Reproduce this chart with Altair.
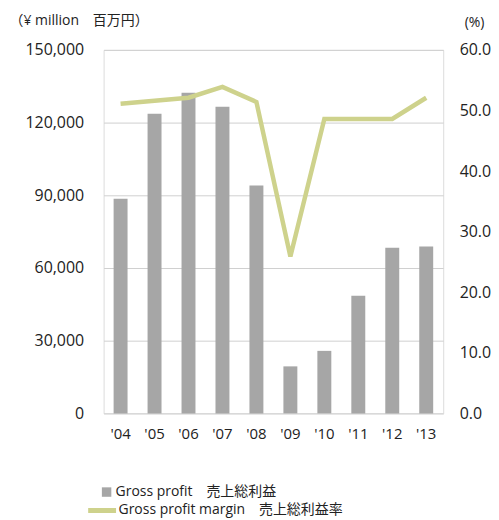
import altair as alt
import pandas as pd

years = ["'04", "'05", "'06", "'07", "'08", "'09", "'10", "'11", "'12", "'13"]
gross_profit = [88600, 123600, 132300, 126500, 94000, 19400, 25800, 48500, 68400, 68900]
gross_margin = [51.1, 51.6, 52.1, 53.9, 51.4, 25.9, 48.6, 48.6, 48.6, 52.1]

FONT = "Open Sans, Noto Sans CJK JP, sans-serif"
BAR_LABEL = "Gross profit\u3000売上総利益"
LINE_LABEL = "Gross profit margin\u3000売上総利益率"

df = pd.DataFrame({
    "year": years,
    "profit": gross_profit,
    "margin": gross_margin,
    "bar_series": [BAR_LABEL] * len(years),
    "line_series": [LINE_LABEL] * len(years),
})

x = alt.X("year:N", sort=years, title=None,
          scale=alt.Scale(paddingInner=0.59, paddingOuter=0.295),
          axis=alt.Axis(labelAngle=0, labelFontSize=15, labelColor="#222222",
                        labelFont=FONT, domain=False, ticks=False, labelPadding=13))

bars = alt.Chart(df).mark_bar(size=14).encode(
    x=x,
    y=alt.Y("profit:Q",
            scale=alt.Scale(domain=[0, 150000]),
            axis=alt.Axis(values=[0, 30000, 60000, 90000, 120000, 150000], format=",d",
                          title="（¥ million\u3000百万円）", titleAngle=0, titleAlign="left",
                          titleBaseline="middle", titleX=-95, titleY=-29,
                          titleFontSize=14, titleFontWeight="normal", titleColor="#222222",
                          titleFont=FONT,
                          labelFontSize=16, labelColor="#222222", labelFont=FONT,
                          labelPadding=20, domain=False, ticks=False,
                          grid=True, gridColor="#d0d0d0", gridWidth=1)),
    color=alt.Color("bar_series:N", scale=alt.Scale(range=["#a6a6a6"]),
                    legend=alt.Legend(title=None, orient="none", legendX=-4, legendY=437,
                                      symbolType="square", symbolSize=90,
                                      labelFontSize=14, labelColor="#222222",
                                      labelFont=FONT, padding=0, labelOffset=2,
                                      labelLimit=400)),
)

line = alt.Chart(df).mark_line(strokeWidth=4.5, strokeJoin="miter").encode(
    x=x,
    y=alt.Y("margin:Q",
            scale=alt.Scale(domain=[0, 60]),
            axis=alt.Axis(values=[0, 10, 20, 30, 40, 50, 60], format=".1f", orient="right",
                          title="(%)", titleAngle=0, titleAlign="center",
                          titleBaseline="middle", titleX=31, titleY=-27,
                          titleFontSize=14, titleFontWeight="normal", titleColor="#222222",
                          titleFont=FONT,
                          labelFontSize=16, labelColor="#222222", labelFont=FONT,
                          labelPadding=16, domain=False, ticks=False, grid=False)),
    stroke=alt.Stroke("line_series:N", scale=alt.Scale(range=["#ced28c"]),
                      legend=alt.Legend(title=None, orient="none", legendX=-18, legendY=446,
                                        symbolType="stroke", symbolSize=784,
                                        symbolStrokeWidth=5,
                                        labelFontSize=14, labelColor="#222222",
                                        labelFont=FONT, padding=0, labelOffset=0,
                                        labelLimit=400)),
)

chart = alt.layer(bars, line).resolve_scale(
    y="independent", color="independent", stroke="independent"
).properties(
    width=341, height=365, padding={"left": 1, "top": 5, "right": 0, "bottom": 0}
).configure_view(stroke=None).configure(background="white")

chart.save("out.html", embed_options={"renderer": "svg", "actions": False})
